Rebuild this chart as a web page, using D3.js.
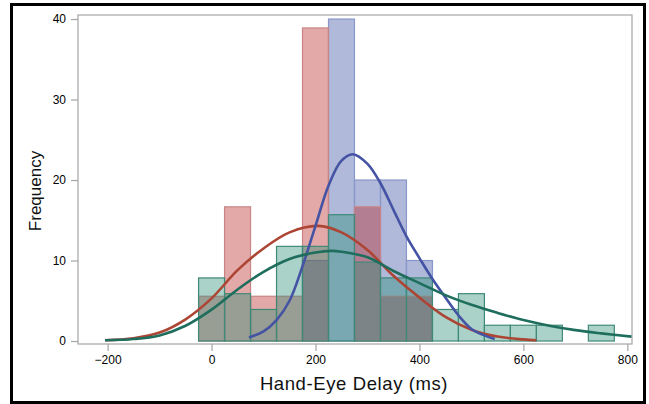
<!DOCTYPE html>
<html>
<head>
<meta charset="utf-8">
<script src="https://cdn.jsdelivr.net/npm/d3@7"></script>
<style>
    body { margin: 0; background: #fff; }
    svg { display: block; }
    text { font-family: "Liberation Sans", Arial, sans-serif; }
</style>
</head>
<body>
<svg></svg>
<script>
// histogram bins (centre, ms) and frequency (%) for each group
const binCenters = [0, 50, 100, 150, 200, 250, 300, 350, 400, 450, 500, 550, 600, 650, 700, 750];
const redFreq   = [5.56, 16.67, 5.56, 5.56, 38.89, 0, 16.67, 5.56, 5.56, 0, 0, 0, 0, 0, 0, 0];
const blueFreq  = [0, 0, 0, 0, 10, 40, 20, 20, 10, 0, 0, 0, 0, 0, 0, 0];
const greenFreq = [7.84, 5.88, 3.92, 11.76, 11.76, 15.69, 9.8, 7.84, 7.84, 3.92, 5.88, 1.96, 1.96, 1.96, 0, 1.96];
const binWidth = 50;

// fitted curves
const redCurveX   = [-205, -150, -100, -50, 0, 50, 100, 150, 205, 250, 300, 350, 400, 450, 500, 550, 600, 625];
const redCurveY   = [0.1, 0.35, 1.05, 2.7, 5.3, 8.8, 11.5, 13.5, 14.3, 13.5, 11.3, 8.1, 5.4, 3.0, 1.4, 0.55, 0.2, 0.1];
const blueCurveX  = [72, 100, 125, 150, 175, 200, 225, 250, 272, 300, 325, 350, 375, 400, 425, 450, 475, 500, 525, 545];
const blueCurveY  = [0.45, 1.2, 2.6, 5.0, 9.3, 14.3, 19.3, 22.4, 23.2, 22.0, 19.6, 16.3, 13.0, 10.3, 7.7, 5.4, 3.2, 1.5, 0.7, 0.25];
const greenCurveX = [-205, -150, -100, -50, 0, 50, 100, 150, 200, 230, 250, 300, 350, 400, 450, 500, 550, 600, 650, 700, 750, 808];
const greenCurveY = [0.1, 0.25, 0.7, 1.9, 3.9, 6.4, 8.6, 10.2, 11.0, 11.2, 11.1, 10.4, 8.7, 7.2, 5.7, 4.5, 3.5, 2.6, 1.9, 1.35, 0.95, 0.55];

const xTicks = [-200, 0, 200, 400, 600, 800];
const yTicks = [0, 10, 20, 30, 40];

const width = 649;
const height = 404;
const plotLeft = 78, plotRight = 632, plotTop = 15, plotBottom = 344;

let svg = d3.select("svg").attr("width", width).attr("height", height);

let scX = d3.scaleLinear().domain([-257, 809]).range([plotLeft, plotRight]);
let scY = d3.scaleLinear().domain([-0.37, 40.5]).range([plotBottom, plotTop]);

// outer black frame
svg.append("rect")
    .attr("x", 11.5).attr("y", 4.5)
    .attr("width", 633).attr("height", 398)
    .attr("fill", "none").attr("stroke", "#000").attr("stroke-width", 3);

// plot frame
svg.append("rect")
    .attr("x", plotLeft).attr("y", plotTop)
    .attr("width", plotRight - plotLeft).attr("height", plotBottom - plotTop)
    .attr("fill", "none").attr("stroke", "#a6a6a6").attr("stroke-width", 1.2);

function drawBars(values, fill, stroke) {
    let data = binCenters.map((c, i) => ({ c: c, v: values[i] })).filter((d) => d.v > 0);
    svg.append("g")
        .selectAll("rect")
        .data(data)
        .enter()
        .append("rect")
        .attr("x", (d) => scX(d.c - binWidth / 2))
        .attr("width", (d) => scX(d.c + binWidth / 2) - scX(d.c - binWidth / 2))
        .attr("y", (d) => scY(d.v))
        .attr("height", (d) => scY(0) - scY(d.v))
        .attr("fill", fill)
        .attr("fill-opacity", 0.4)
        .attr("stroke", stroke)
        .attr("stroke-width", 1.2);
}

// order: blue under red, green on top
drawBars(blueFreq, "#3950a0", "#8896c9");
drawBars(redFreq, "#b92525", "#c98585");
drawBars(greenFreq, "#2a8f78", "#3f8a77");

function drawCurve(xs, ys, color) {
    let pts = xs.map((x, i) => [x, ys[i]]);
    let line = d3.line()
        .x((d) => scX(d[0]))
        .y((d) => scY(d[1]))
        .curve(d3.curveCatmullRom.alpha(0.5));
    svg.append("path")
        .attr("d", line(pts))
        .attr("fill", "none")
        .attr("stroke", color)
        .attr("stroke-width", 2.6);
}

drawCurve(redCurveX, redCurveY, "#ad4535");
drawCurve(blueCurveX, blueCurveY, "#4453a3");
drawCurve(greenCurveX, greenCurveY, "#1f6e5d");

// axes
let axisX = d3.axisBottom(scX).tickValues(xTicks).tickSize(7).tickPadding(4).tickSizeOuter(0);
let axisY = d3.axisLeft(scY).tickValues(yTicks).tickSize(7).tickPadding(5).tickSizeOuter(0);

let gx = svg.append("g").attr("transform", `translate(0, ${plotBottom})`).call(axisX);
let gy = svg.append("g").attr("transform", `translate(${plotLeft}, 0)`).call(axisY);

[gx, gy].forEach((g) => {
    g.select(".domain").remove();
    g.selectAll("line").attr("stroke", "#a6a6a6").attr("stroke-width", 1.2);
    g.selectAll("text").attr("fill", "#000").style("font-size", "12px");
});

// axis titles
svg.append("text")
    .attr("x", 354).attr("y", 390)
    .attr("text-anchor", "middle")
    .style("font-size", "18.5px")
    .style("letter-spacing", "0.6px")
    .attr("fill", "#111")
    .text("Hand-Eye Delay (ms)");

svg.append("text")
    .attr("transform", "translate(41, 191) rotate(-90)")
    .attr("text-anchor", "middle")
    .style("font-size", "17px")
    .attr("fill", "#111")
    .text("Frequency");
</script>
</body>
</html>
